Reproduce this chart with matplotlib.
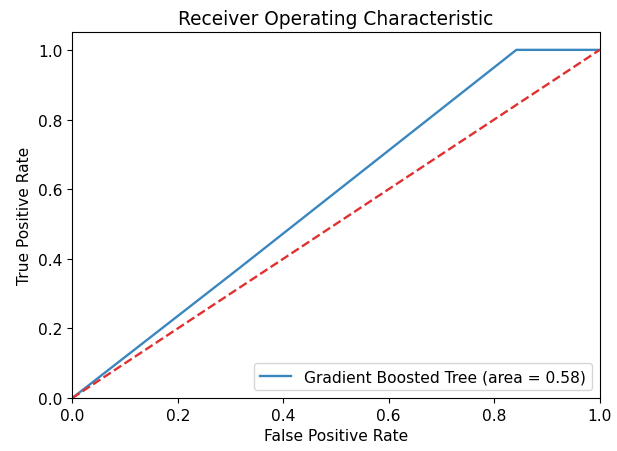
import matplotlib
matplotlib.use("Agg")
import matplotlib.pyplot as plt

# ROC points for the gradient boosted tree
fpr = [0.0, 0.314, 0.842, 1.0]
tpr = [0.0, 0.37, 1.0, 1.0]
roc_auc = 0.58

fig = plt.figure(figsize=(6.17, 4.52), dpi=100)
ax = fig.add_axes([0.117, 0.117, 0.855, 0.809])

ax.plot(fpr, tpr, color='#3a87c0', lw=1.7,
        label='Gradient Boosted Tree (area = %0.2f)' % roc_auc)
ax.plot([0, 1], [0, 1], '--', lw=1.7, color='#e03030')
ax.set_xlim([0.0, 1.0])
ax.set_ylim([0.0, 1.05])
ax.set_title('Receiver Operating Characteristic', fontsize=13.4)
ax.set_xlabel('False Positive Rate', fontsize=11.2)
ax.set_ylabel('True Positive Rate', fontsize=11.2)
ax.tick_params(labelsize=11.2)
ax.legend(loc='lower right', fontsize=11.2)

fig.savefig('out.png', dpi=100)
